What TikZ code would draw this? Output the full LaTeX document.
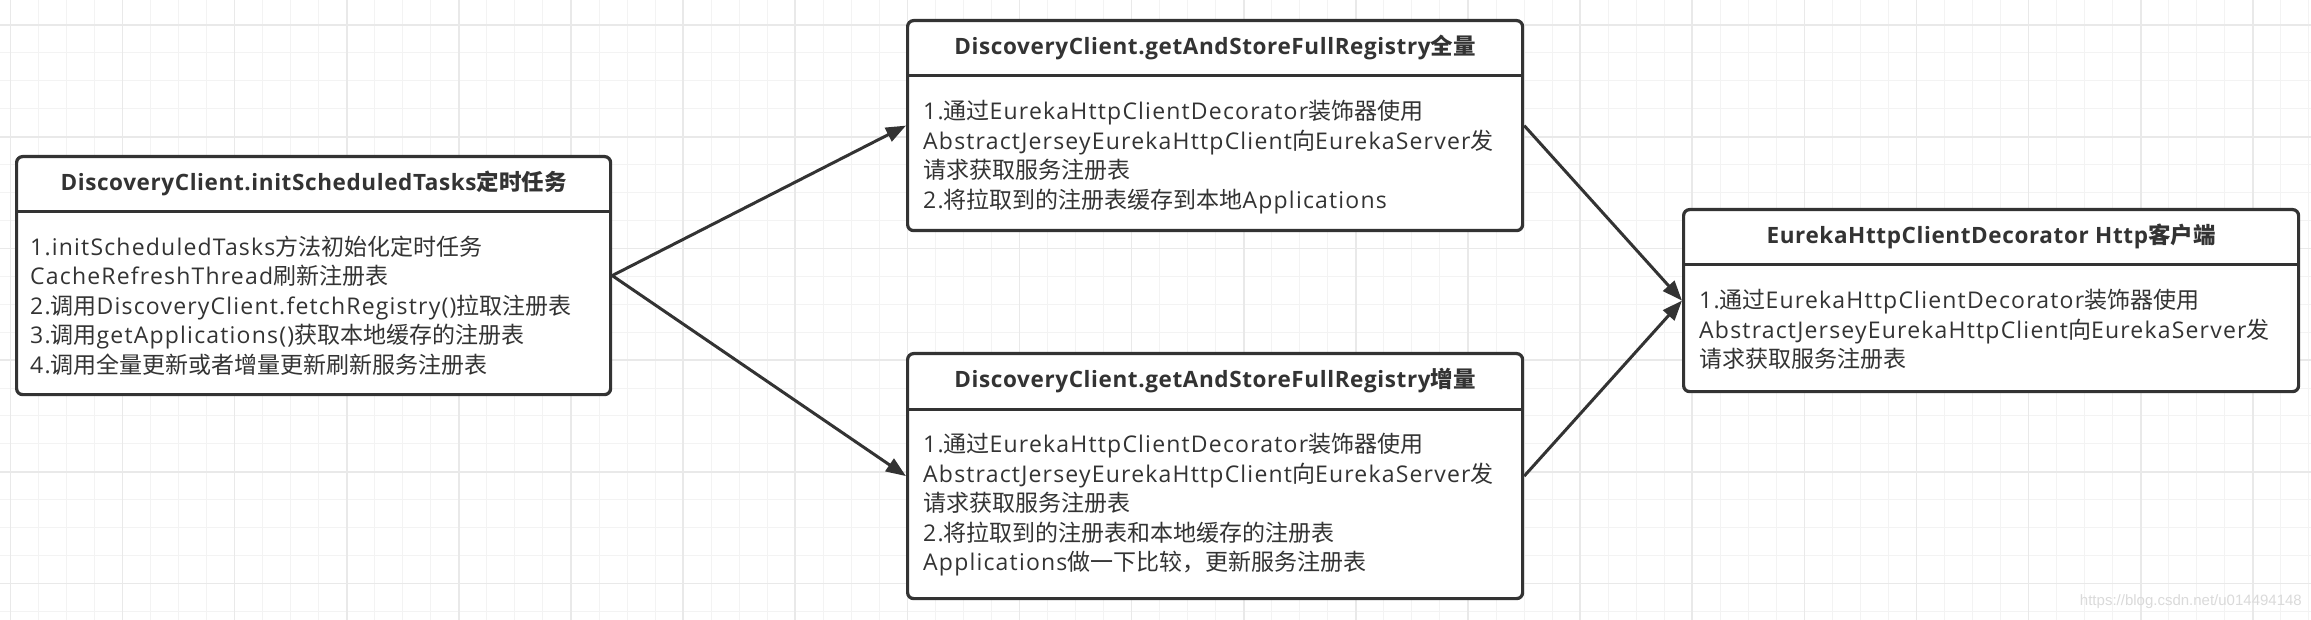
\documentclass[tikz,border=0pt]{standalone}
\usepackage{fontspec}
\setmainfont{Open Sans}[LetterSpace=5.2, BoldFeatures={LetterSpace=2.7}]
\newfontfamily\cjk{Noto Sans CJK SC}
\newfontfamily\wmfont{Liberation Sans}
\usetikzlibrary{arrows.meta}
\definecolor{ink}{HTML}{333333}
\definecolor{gridminor}{HTML}{F3F3F3}
\definecolor{gridmajor}{HTML}{E9E9E9}
\definecolor{wmcol}{HTML}{DADADA}
\tikzset{
  boxframe/.style={draw=ink, line width=3.2pt, rounded corners=6pt, inner sep=0pt, fill=white, anchor=north west},
  headtext/.style={font=\fontsize{22.5}{26}\selectfont\bfseries, text=ink, inner sep=0pt},
  bodytext/.style={font=\fontsize{23}{29.5}\selectfont, text=ink, align=left, inner sep=0pt, anchor=north west},
  divider/.style={draw=ink, line width=3pt},
  conn/.style={draw=ink, line width=3pt, -{Triangle[length=20pt,width=15pt]}},
  minorline/.style={draw=gridminor, line width=1pt},
  majorline/.style={draw=gridmajor, line width=1.6pt},
}
\begin{document}
\begin{tikzpicture}[x=1pt,y=-1pt]
\useasboundingbox (0,0) rectangle (2311,620);
\fill[white] (0,0) rectangle (2311,620);
% grid
\foreach \k in {0,...,82}{\pgfmathsetmacro\xx{10.4+28.03*\k}\draw[minorline] (\xx,0) -- (\xx,620);}
\foreach \k in {0,...,22}{\pgfmathsetmacro\yy{-3+27.93*\k}\draw[minorline] (0,\yy) -- (2311,\yy);}
\foreach \k in {0,...,20}{\pgfmathsetmacro\xx{10.4+112.12*\k}\draw[majorline] (\xx,0) -- (\xx,620);}
\foreach \k in {0,...,5}{\pgfmathsetmacro\yy{25+111.72*\k}\draw[majorline] (0,\yy) -- (2311,\yy);}

% boxes
\node[boxframe, minimum width=594pt, minimum height=238pt] (b1) at (15,155) {};
\node[boxframe, minimum width=615pt, minimum height=210pt] (b2) at (906,19) {};
\node[boxframe, minimum width=615pt, minimum height=245pt] (b3) at (906,352) {};
\node[boxframe, minimum width=615pt, minimum height=182pt] (b4) at (1682,208) {};

\foreach \b in {b1,b2,b3,b4}{
  \draw[divider] ([yshift=-57pt]\b.north west) -- ([yshift=-57pt]\b.north east);
}

\node[headtext] (h1) at ([yshift=-28.5pt]b1.north) {DiscoveryClient.initScheduledTasks{\cjk 定时任务}};
\node[headtext] (h2) at ([yshift=-28.5pt]b2.north) {DiscoveryClient.getAndStoreFullRegistry{\cjk 全量}};
\node[headtext] (h3) at ([yshift=-28.5pt]b3.north) {DiscoveryClient.getAndStoreFullRegistry{\cjk 增量}};
\node[headtext] (h4) at ([yshift=-28.5pt]b4.north) {EurekaHttpClientDecorator Http{\cjk 客户端}};

\node[bodytext] (t1) at ([xshift=15pt,yshift=-80.5pt]b1.north west) {%
1.initScheduledTasks{\cjk 方法初始化定时任务}\\
CacheRefreshThread{\cjk 刷新注册表}\\
2.{\cjk 调用}DiscoveryClient.fetchRegistry(){\cjk 拉取注册表}\\
3.{\cjk 调用}getApplications(){\cjk 获取本地缓存的注册表}\\
4.{\cjk 调用全量更新或者增量更新刷新服务注册表}};

\node[bodytext] (t2) at ([xshift=17pt,yshift=-81pt]b2.north west) {%
1.{\cjk 通过}EurekaHttpClientDecorator{\cjk 装饰器使用}\\
AbstractJerseyEurekaHttpClient{\cjk 向}EurekaServer{\cjk 发}\\
{\cjk 请求获取服务注册表}\\
2.{\cjk 将拉取到的注册表缓存到本地}Applications};

\node[bodytext] (t3) at ([xshift=17pt,yshift=-81pt]b3.north west) {%
1.{\cjk 通过}EurekaHttpClientDecorator{\cjk 装饰器使用}\\
AbstractJerseyEurekaHttpClient{\cjk 向}EurekaServer{\cjk 发}\\
{\cjk 请求获取服务注册表}\\
2.{\cjk 将拉取到的注册表和本地缓存的注册表}\\
Applications{\cjk 做一下比较，更新服务注册表}};

\node[bodytext] (t4) at ([xshift=17pt,yshift=-81pt]b4.north west) {%
1.{\cjk 通过}EurekaHttpClientDecorator{\cjk 装饰器使用}\\
AbstractJerseyEurekaHttpClient{\cjk 向}EurekaServer{\cjk 发}\\
{\cjk 请求获取服务注册表}};

% connectors
\draw[conn] (b1.east) -- (b2.west);
\draw[conn] (b1.east) -- (b3.west);
\draw[conn] (b2.east) -- (b4.west);
\draw[conn] (b3.east) -- (b4.west);

\node[font=\wmfont\fontsize{15}{15}\selectfont, text=wmcol, anchor=east, inner sep=0pt] (wm) at (2302,602) {https://blog.csdn.net/u014494148};
\end{tikzpicture}
\end{document}
